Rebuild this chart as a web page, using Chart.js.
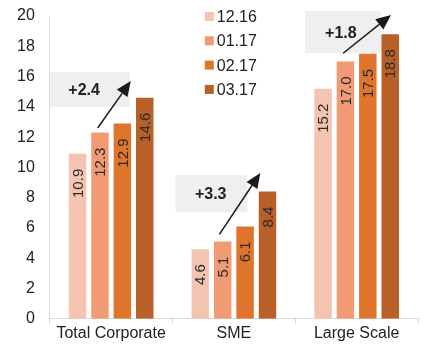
<!DOCTYPE html>
<html>
<head>
<meta charset="utf-8">
<script src="https://cdn.jsdelivr.net/npm/chart.js@4/dist/chart.umd.min.js"></script>
<style>
  html, body { margin: 0; padding: 0; background: #fff; }
  #wrap { width: 441px; height: 345px; position: relative; }
</style>
</head>
<body>
<div id="wrap"><canvas id="chart"></canvas></div>
<script>
// data
const categories = ['Total Corporate', 'SME', 'Large Scale'];
const periods = ['12.16', '01.17', '02.17', '03.17'];
const values1216 = [10.9, 4.6, 15.2];
const values0117 = [12.3, 5.1, 17.0];
const values0217 = [12.9, 6.1, 17.5];
const values0317 = [14.6, 8.4, 18.8];
const yTicks = [0, 2, 4, 6, 8, 10, 12, 14, 16, 18, 20];
const changeLabels = ['+2.4', '+3.3', '+1.8'];

const colors = ['#F4C4B1', '#F19B74', '#DF742C', '#B95F28'];
const FONT = '"Liberation Sans", Arial, sans-serif';

// grey box + arrow per category, in (category-width fraction, y value) units
const boxGeom = [
  { x0: -0.50, x1: 0.15, y0: 14.0, y1: 16.3, tx: 0.43, ax0: -0.11, ay0: 12.6, ax1: 0.16, ay1: 15.7 },
  { x0: -0.476, x1: 0.11, y0: 7.04, y1: 9.5, tx: 0.49, ax0: -0.118, ay0: 5.58, ax1: 0.215, ay1: 9.63 },
  { x0: -0.42, x1: 0.20, y0: 17.54, y1: 20.33, tx: 0.47, ax0: -0.11, ay0: 17.54, ax1: 0.28, ay1: 20.07 }
];

const annotationPlugin = {
  id: 'changeBoxes',
  beforeDatasetsDraw(chart) {
    const ctx = chart.ctx;
    const xs = chart.scales.x, ys = chart.scales.y;
    const cw = (xs.right - xs.left) / categories.length;
    ctx.save();
    boxGeom.forEach((g, i) => {
      const cx = xs.getPixelForValue(i);
      const bx0 = cx + g.x0 * cw, bx1 = cx + g.x1 * cw;
      const by0 = ys.getPixelForValue(g.y1), by1 = ys.getPixelForValue(g.y0);
      ctx.fillStyle = '#EFEFEF';
      ctx.fillRect(bx0, by0, bx1 - bx0, by1 - by0);
    });
    ctx.restore();
  },
  afterDatasetsDraw(chart) {
    const ctx = chart.ctx;
    const xs = chart.scales.x, ys = chart.scales.y;
    const cw = (xs.right - xs.left) / categories.length;
    ctx.save();
    boxGeom.forEach((g, i) => {
      const cx = xs.getPixelForValue(i);
      const bx0 = cx + g.x0 * cw, bx1 = cx + g.x1 * cw;
      const by0 = ys.getPixelForValue(g.y1), by1 = ys.getPixelForValue(g.y0);
      // label
      ctx.fillStyle = '#222';
      ctx.font = 'bold 16px ' + FONT;
      ctx.textAlign = 'center';
      ctx.textBaseline = 'middle';
      ctx.fillText(changeLabels[i], bx0 + (bx1 - bx0) * g.tx, (by0 + by1) / 2 + 1);
      // arrow
      const x0 = cx + g.ax0 * cw, y0 = ys.getPixelForValue(g.ay0);
      const x1 = cx + g.ax1 * cw, y1 = ys.getPixelForValue(g.ay1);
      const ang = Math.atan2(y1 - y0, x1 - x0);
      const hl = 15, hw = 6.5;
      const bx = x1 - hl * Math.cos(ang), by = y1 - hl * Math.sin(ang);
      ctx.strokeStyle = '#1a1a1a';
      ctx.lineWidth = 1.5;
      ctx.beginPath();
      ctx.moveTo(x0, y0);
      ctx.lineTo(bx, by);
      ctx.stroke();
      ctx.fillStyle = '#1a1a1a';
      ctx.beginPath();
      ctx.moveTo(x1, y1);
      ctx.lineTo(bx + hw * Math.sin(ang), by - hw * Math.cos(ang));
      ctx.lineTo(bx - hw * Math.sin(ang), by + hw * Math.cos(ang));
      ctx.closePath();
      ctx.fill();
    });
    ctx.restore();
  }
};

const barLabelPlugin = {
  id: 'barLabels',
  afterDatasetsDraw(chart) {
    const ctx = chart.ctx;
    ctx.save();
    ctx.font = '15px ' + FONT;
    ctx.fillStyle = '#2b2b2b';
    ctx.textAlign = 'right';
    ctx.textBaseline = 'middle';
    chart.data.datasets.forEach((ds, di) => {
      chart.getDatasetMeta(di).data.forEach((bar, i) => {
        ctx.save();
        ctx.translate(bar.x + 1, bar.y + 15);
        ctx.rotate(-Math.PI / 2);
        ctx.fillText(ds.data[i].toFixed(1), 0, 0);
        ctx.restore();
      });
    });
    ctx.restore();
  }
};

const legendPlugin = {
  id: 'sideLegend',
  afterDraw(chart) {
    const ctx = chart.ctx;
    const left = chart.chartArea.left + 155;
    ctx.save();
    ctx.font = '16px ' + FONT;
    ctx.textBaseline = 'middle';
    ctx.textAlign = 'left';
    periods.forEach((p, i) => {
      const y = 16.5 + i * 24.3;
      ctx.fillStyle = colors[i];
      ctx.fillRect(left, y - 4.5, 9, 9);
      ctx.fillStyle = '#222';
      ctx.fillText(p, left + 12, y + 1);
    });
    ctx.restore();
  }
};

const seriesValues = [values1216, values0117, values0217, values0317];

new Chart(document.getElementById('chart'), {
  type: 'bar',
  data: {
    labels: categories,
    datasets: periods.map((p, i) => ({
      label: p,
      data: seriesValues[i],
      backgroundColor: colors[i],
      borderWidth: 0,
      categoryPercentage: 0.73,
      barPercentage: 0.78
    }))
  },
  options: {
    responsive: true,
    maintainAspectRatio: false,
    animation: false,
    layout: { padding: { left: 2, right: 23, top: 16, bottom: 2 } },
    plugins: {
      legend: { display: false },
      tooltip: { enabled: false }
    },
    scales: {
      x: {
        grid: { display: true, drawOnChartArea: false, drawTicks: true, tickLength: 5, color: '#D9D9D9', offset: true },
        border: { display: true, color: '#D9D9D9', width: 1 },
        ticks: { color: '#222', font: { family: FONT, size: 16 }, padding: 0 }
      },
      y: {
        min: 0,
        max: 20,
        afterBuildTicks(axis) { axis.ticks = yTicks.map(v => ({ value: v })); },
        afterFit(axis) { axis.paddingTop = 0; axis.paddingBottom = 0; },
        grid: { display: false, drawTicks: false },
        border: { display: true, color: '#D9D9D9', width: 1 },
        ticks: { color: '#222', font: { family: FONT, size: 16 }, padding: 15 }
      }
    }
  },
  plugins: [annotationPlugin, barLabelPlugin, legendPlugin]
});
</script>
</body>
</html>
